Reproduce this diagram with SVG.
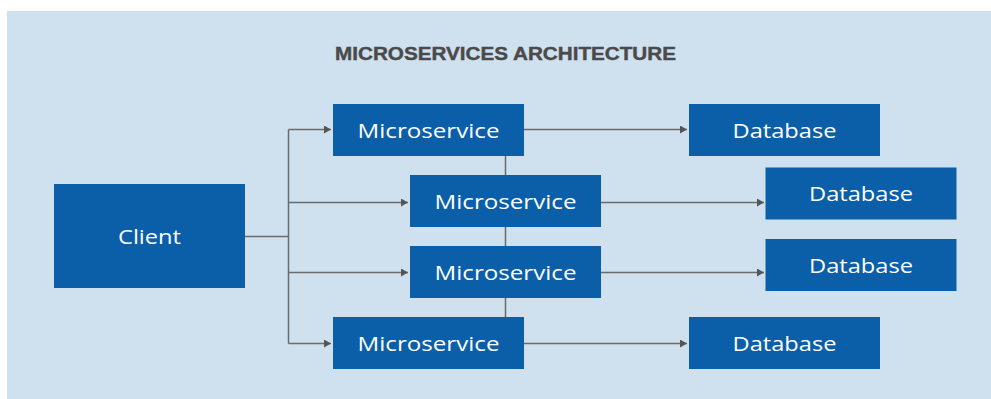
<svg xmlns="http://www.w3.org/2000/svg" width="991" height="399" viewBox="0 0 991 399">
  <style>
    .box { fill: #0b5ea8; }
    .lbl { fill: #ffffff; font-family: "Open Sans", "Noto Sans", "Liberation Sans", sans-serif; font-size: 20px; font-weight: 500; text-anchor: middle; }
    .title { fill: #4a4a4a; stroke: #4a4a4a; stroke-width: 0.4; font-family: "Liberation Sans", Arial, sans-serif; font-weight: bold; font-size: 18.5px; }
    .wire { fill: none; stroke: #6b6b6b; stroke-width: 1.5; }
  </style>
  <defs>
    <marker id="arrow" viewBox="0 0 7 8" refX="7" refY="4" markerWidth="7" markerHeight="8" markerUnits="userSpaceOnUse" orient="auto">
      <path d="M0,0 L7,4 L0,8 Z" fill="#555555"/>
    </marker>
  </defs>

  <!-- backdrop -->
  <rect x="7" y="11" width="984" height="388" fill="#cfe0ee"/>

  <text class="title" x="335" y="59.5" textLength="341" lengthAdjust="spacingAndGlyphs">MICROSERVICES ARCHITECTURE</text>

  <!-- connectors -->
  <g id="connectors">
    <!-- spine linking the services -->
    <path class="wire" d="M505.5,156 V317"/>
    <!-- client fan-out -->
    <path class="wire" d="M245,236.5 H288.5"/>
    <path class="wire" d="M288.5,129.5 V343.5"/>
    <path class="wire" d="M288.5,129.5 H331" marker-end="url(#arrow)"/>
    <path class="wire" d="M288.5,202.5 H408" marker-end="url(#arrow)"/>
    <path class="wire" d="M288.5,272.5 H408" marker-end="url(#arrow)"/>
    <path class="wire" d="M288.5,343.5 H331" marker-end="url(#arrow)"/>
    <!-- service to database -->
    <path class="wire" d="M524,129.5 H687" marker-end="url(#arrow)"/>
    <path class="wire" d="M601,202.5 H764" marker-end="url(#arrow)"/>
    <path class="wire" d="M601,272.5 H764" marker-end="url(#arrow)"/>
    <path class="wire" d="M524,343.5 H687" marker-end="url(#arrow)"/>
  </g>

  <g id="client">
    <rect class="box" x="54" y="184" width="191" height="104"/>
    <text class="lbl" x="149.5" y="243.5" textLength="63" lengthAdjust="spacingAndGlyphs">Client</text>
  </g>

  <g id="service-1">
    <rect class="box" x="333" y="104" width="191" height="52"/>
    <text class="lbl" x="428.5" y="137.5" textLength="142" lengthAdjust="spacingAndGlyphs">Microservice</text>
  </g>
  <g id="service-2">
    <rect class="box" x="410" y="175" width="191" height="52"/>
    <text class="lbl" x="505.5" y="208.5" textLength="142" lengthAdjust="spacingAndGlyphs">Microservice</text>
  </g>
  <g id="service-3">
    <rect class="box" x="410" y="246" width="191" height="52"/>
    <text class="lbl" x="505.5" y="279.5" textLength="142" lengthAdjust="spacingAndGlyphs">Microservice</text>
  </g>
  <g id="service-4">
    <rect class="box" x="333" y="317" width="191" height="52"/>
    <text class="lbl" x="428.5" y="350.5" textLength="142" lengthAdjust="spacingAndGlyphs">Microservice</text>
  </g>

  <g id="database-1">
    <rect class="box" x="689" y="104" width="191" height="52"/>
    <text class="lbl" x="784.5" y="137.5" textLength="104" lengthAdjust="spacingAndGlyphs">Database</text>
  </g>
  <g id="database-2">
    <rect class="box" x="765.5" y="167.5" width="191" height="52"/>
    <text class="lbl" x="861" y="201" textLength="104" lengthAdjust="spacingAndGlyphs">Database</text>
  </g>
  <g id="database-3">
    <rect class="box" x="765.5" y="239" width="191" height="52"/>
    <text class="lbl" x="861" y="272.5" textLength="104" lengthAdjust="spacingAndGlyphs">Database</text>
  </g>
  <g id="database-4">
    <rect class="box" x="689" y="317" width="191" height="52"/>
    <text class="lbl" x="784.5" y="350.5" textLength="104" lengthAdjust="spacingAndGlyphs">Database</text>
  </g>
</svg>
